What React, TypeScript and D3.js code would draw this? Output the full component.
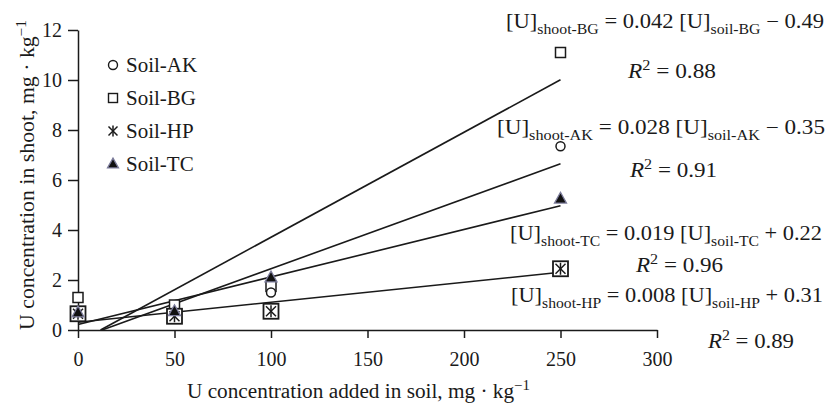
import { useEffect, useRef } from 'react';
import * as d3 from 'd3';

// U added to soil (mg/kg)
const doses = [0, 50, 100, 250];

// U in shoot (mg/kg)
const akValues = [0.6, 0.65, 1.5, 7.35];
const bgValues = [1.3, 1.0, 1.75, 11.1];
const hpValues = [0.65, 0.55, 0.75, 2.45];
const tcValues = [0.7, 0.75, 2.1, 5.25];

// fitted lines, as printed on the chart
const fitSoils = ['BG', 'AK', 'TC', 'HP'];
const fitSlopes = [0.042, 0.028, 0.019, 0.008];
const fitIntercepts = [-0.49, -0.35, 0.22, 0.31];
const fitR2 = ['0.88', '0.91', '0.96', '0.89'];

const xTicks = [0, 50, 100, 150, 200, 250, 300];
const yTicks = [0, 2, 4, 6, 8, 10, 12];
const legendLabels = ['Soil-AK', 'Soil-BG', 'Soil-HP', 'Soil-TC'];

const W = 826;
const H = 406;
const FONT = '"Liberation Serif", "DejaVu Serif", serif';
const INK = '#1a1a1a';

// where the equation text sits (eq line, then R² line)
const eqLayout = [
  { x: 506, y: 28, w: 318, rx: 628, ry: 78, rw: 88 },
  { x: 497, y: 134, w: 328, rx: 630, ry: 177, rw: 87 },
  { x: 510, y: 240, w: 312, rx: 636, ry: 272, rw: 87 },
  { x: 511, y: 302, w: 312, rx: 708, ry: 348, rw: 86 },
];

const xScale = d3.scaleLinear().domain([0, 300]).range([78, 657]);
const yScale = d3.scaleLinear().domain([0, 12]).range([330, 30]);

function Asterisk({ cx, cy, r }: { cx: number; cy: number; r: number }) {
  return (
    <g stroke={INK} strokeWidth={1.5}>
      <line x1={cx - r} y1={cy - r} x2={cx + r} y2={cy + r} />
      <line x1={cx - r} y1={cy + r} x2={cx + r} y2={cy - r} />
      <line x1={cx} y1={cy - r * 1.2} x2={cx} y2={cy + r * 1.2} />
    </g>
  );
}

function Triangle({ cx, cy, s }: { cx: number; cy: number; s: number }) {
  const h = s * 0.9;
  const pts = `${cx},${cy - h * 0.6} ${cx - s / 2},${cy + h * 0.4} ${cx + s / 2},${cy + h * 0.4}`;
  return <polygon points={pts} fill="#111" stroke="#7d7d9c" strokeWidth={1.3} strokeLinejoin="miter" />;
}

function Equation({ i }: { i: number }) {
  const L = eqLayout[i];
  const soil = fitSoils[i];
  const m = fitSlopes[i];
  const b = fitIntercepts[i];
  const sign = b < 0 ? '\u2212' : '+';
  return (
    <g fontFamily={FONT} fill={INK} style={{ whiteSpace: 'pre' }}>
      <text x={L.x} y={L.y} fontSize={20} textLength={L.w} lengthAdjust="spacingAndGlyphs">
        [U]
        <tspan fontSize={14} dy={6}>{`shoot-${soil}`}</tspan>
        <tspan dy={-6}>{` = ${m.toFixed(3)} [U]`}</tspan>
        <tspan fontSize={14} dy={6}>{`soil-${soil}`}</tspan>
        <tspan dy={-6}>{` ${sign} ${Math.abs(b).toFixed(2)}`}</tspan>
      </text>
      <text x={L.rx} y={L.ry} fontSize={20} textLength={L.rw} lengthAdjust="spacingAndGlyphs">
        <tspan fontStyle="italic">R</tspan>
        <tspan fontSize={14} dy={-8}>2</tspan>
        <tspan dy={8}>{` = ${fitR2[i]}`}</tspan>
      </text>
    </g>
  );
}

export default function App() {
  const xAxisRef = useRef<SVGGElement>(null);
  const yAxisRef = useRef<SVGGElement>(null);

  useEffect(() => {
    if (!xAxisRef.current || !yAxisRef.current) return;
    const xa = d3.select(xAxisRef.current);
    xa.call(d3.axisBottom(xScale).tickValues(xTicks).tickSize(8).tickSizeOuter(0).tickPadding(14));
    const ya = d3.select(yAxisRef.current);
    ya.call(d3.axisLeft(yScale).tickValues(yTicks).tickSize(10).tickSizeOuter(0).tickPadding(6));
    [xa, ya].forEach((g) => {
      g.select('.domain').attr('stroke', INK).attr('stroke-width', 1.5);
      g.selectAll('.tick line').attr('stroke', INK).attr('stroke-width', 1.5);
      g.selectAll('.tick text')
        .attr('fill', INK)
        .attr('font-size', 20)
        .attr('font-family', FONT);
    });
  }, []);

  const fitLines = fitSoils.map((_, i) => {
    const m = fitSlopes[i];
    const b = fitIntercepts[i];
    const x0 = Math.max(0, -b / m);
    return d3.line<number>()
      .x((d) => xScale(d))
      .y((d) => yScale(m * d + b))([x0, 250]) || '';
  });

  const legendY = [65, 98, 131, 164];

  return (
    <svg width={W} height={H} style={{ position: 'absolute', left: 0, top: 0, background: '#fff' }}>
      <g ref={xAxisRef} transform={`translate(0,${yScale(0)})`} />
      <g ref={yAxisRef} transform={`translate(${xScale(0)},0)`} />

      {/* regression lines */}
      {fitLines.map((d, i) => (
        <path key={i} d={d} fill="none" stroke={INK} strokeWidth={1.6} />
      ))}

      {/* Soil-BG */}
      {doses.map((d, i) => (
        <rect key={`bg${i}`} x={xScale(d) - 5} y={yScale(bgValues[i]) - 5} width={10} height={10}
          fill="#fff" stroke={INK} strokeWidth={1.5} />
      ))}
      {/* Soil-AK */}
      {doses.map((d, i) => (
        <circle key={`ak${i}`} cx={xScale(d)} cy={yScale(akValues[i])} r={4.5}
          fill="#fff" stroke={INK} strokeWidth={1.5} />
      ))}
      {/* Soil-HP */}
      {doses.map((d, i) => (
        <g key={`hp${i}`}>
          <rect x={xScale(d) - 7.5} y={yScale(hpValues[i]) - 7.5} width={15} height={15}
            fill="#fff" stroke={INK} strokeWidth={1.8} />
          <Asterisk cx={xScale(d)} cy={yScale(hpValues[i])} r={5} />
        </g>
      ))}
      {/* Soil-TC */}
      {doses.map((d, i) => (
        <Triangle key={`tc${i}`} cx={xScale(d)} cy={yScale(tcValues[i])} s={12} />
      ))}

      {/* legend */}
      <g fontFamily={FONT} fontSize={21} fill={INK}>
        <circle cx={113} cy={legendY[0]} r={4.5} fill="#fff" stroke={INK} strokeWidth={1.4} />
        <rect x={108.5} y={legendY[1] - 4.5} width={9} height={9} fill="#fff" stroke={INK} strokeWidth={1.4} />
        <Asterisk cx={113} cy={legendY[2]} r={4.5} />
        <Triangle cx={113} cy={legendY[3]} s={11} />
        {legendLabels.map((l, i) => (
          <text key={l} x={126} y={legendY[i] + 7}>{l}</text>
        ))}
      </g>

      {fitSoils.map((_, i) => <Equation key={i} i={i} />)}

      {/* axis titles */}
      <text x={187} y={398} fontFamily={FONT} fontSize={20} fill={INK} textLength={343} lengthAdjust="spacingAndGlyphs">
        U concentration added in soil, mg · kg
        <tspan fontSize={14} dy={-8}>{'\u22121'}</tspan>
      </text>
      <text transform="translate(34,175) rotate(-90)" textAnchor="middle" fontFamily={FONT} fontSize={20} fill={INK}
        textLength={310} lengthAdjust="spacingAndGlyphs">
        U concentration in shoot, mg · kg
        <tspan fontSize={14} dy={-8}>{'\u22121'}</tspan>
      </text>
    </svg>
  );
}
